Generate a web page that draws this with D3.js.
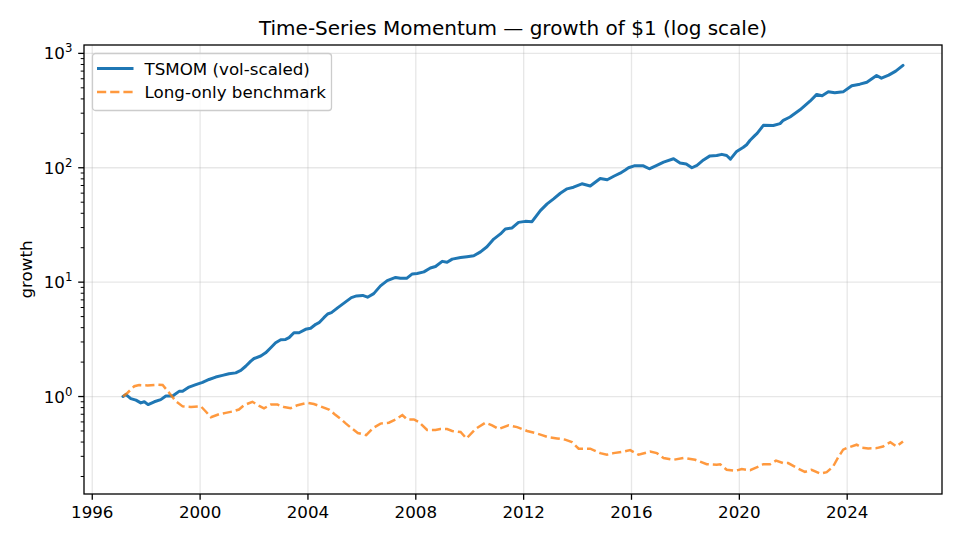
<!DOCTYPE html>
<html>
<head>
<meta charset="utf-8">
<script src="https://cdn.jsdelivr.net/npm/d3@7"></script>
<style>
  body { margin: 0; background: #fff; }
  svg { font-family: "DejaVu Sans", sans-serif; }
</style>
</head>
<body>
<svg width="960" height="540"></svg>
<script>
// values (decimal year, growth of $1)
const tsmomYears = [1997.14, 1997.25, 1997.43, 1997.62, 1997.80, 1997.93, 1998.07, 1998.30, 1998.54, 1998.73,
  1998.98, 1999.22, 1999.35, 1999.59, 1999.84, 2000.09, 2000.33, 2000.58, 2000.83, 2001.07,
  2001.32, 2001.51, 2001.69, 2001.88, 2002.00, 2002.25, 2002.43, 2002.62, 2002.80, 2002.99,
  2003.17, 2003.30, 2003.48, 2003.67, 2003.91, 2004.10, 2004.29, 2004.41, 2004.59, 2004.73,
  2004.87, 2005.11, 2005.36, 2005.61, 2005.80, 2006.03, 2006.21, 2006.44, 2006.69, 2006.94,
  2007.25, 2007.43, 2007.66, 2007.87, 2008.05, 2008.30, 2008.54, 2008.73, 2008.98, 2009.16,
  2009.35, 2009.66, 2009.90, 2010.15, 2010.40, 2010.64, 2010.89, 2011.14, 2011.32, 2011.57,
  2011.81, 2012.06, 2012.31, 2012.43, 2012.62, 2012.87, 2013.11, 2013.36, 2013.61, 2013.85,
  2014.16, 2014.47, 2014.84, 2015.10, 2015.36, 2015.58, 2015.77, 2015.89, 2016.10, 2016.44,
  2016.66, 2016.94, 2017.19, 2017.56, 2017.80, 2018.03, 2018.24, 2018.43, 2018.67, 2018.91,
  2019.16, 2019.35, 2019.53, 2019.67, 2019.90, 2020.15, 2020.27, 2020.40, 2020.58, 2020.66,
  2020.89, 2021.26, 2021.51, 2021.63, 2021.88, 2022.25, 2022.62, 2022.87, 2023.07, 2023.30,
  2023.54, 2023.85, 2024.17, 2024.47, 2024.73, 2025.09, 2025.27, 2025.54, 2025.80, 2026.07];
const tsmomGrowth = [1.00, 1.04, 0.96, 0.93, 0.88, 0.90, 0.85, 0.90, 0.94, 1.01,
  1.01, 1.11, 1.11, 1.21, 1.27, 1.33, 1.41, 1.48, 1.53, 1.58,
  1.61, 1.69, 1.84, 2.04, 2.15, 2.26, 2.41, 2.67, 2.95, 3.14,
  3.16, 3.27, 3.61, 3.61, 3.87, 3.95, 4.28, 4.42, 4.89, 5.27,
  5.41, 5.99, 6.62, 7.33, 7.58, 7.66, 7.39, 7.94, 9.28, 10.3,
  11.0, 10.8, 10.8, 11.8, 11.9, 12.3, 13.3, 13.7, 15.2, 14.9,
  15.9, 16.4, 16.7, 17.0, 18.4, 20.4, 23.8, 26.4, 29.2, 29.8,
  33.3, 34.0, 33.8, 36.9, 42.2, 48.3, 53.5, 59.9, 65.4, 67.6,
  72.4, 69.2, 80.6, 78.5, 84.7, 89.7, 95.7, 100, 104, 104,
  98.0, 105, 112, 120, 110, 108, 100, 105, 117, 127,
  128, 131, 128, 119, 139, 151, 159, 174, 192, 200,
  235, 234, 243, 260, 278, 321, 382, 438, 426, 461,
  453, 461, 522, 538, 560, 641, 607, 645, 699, 785];

const benchYears = [1997.14, 1997.31, 1997.56, 1997.74, 1998.05, 1998.42, 1998.61, 1998.85, 1999.10, 1999.35,
  1999.66, 2000.03, 2000.21, 2000.40, 2000.70, 2000.95, 2001.20, 2001.44, 2001.63, 2001.94,
  2002.19, 2002.37, 2002.62, 2002.87, 2003.11, 2003.36, 2003.61, 2003.98, 2004.22, 2004.47,
  2004.78, 2004.99, 2005.24, 2005.41, 2005.61, 2005.85, 2006.16, 2006.41, 2006.69, 2007.00,
  2007.25, 2007.50, 2007.68, 2007.93, 2008.11, 2008.42, 2008.73, 2008.91, 2009.16, 2009.35,
  2009.66, 2009.88, 2010.21, 2010.58, 2010.83, 2011.07, 2011.44, 2011.76, 2012.13, 2012.43,
  2012.68, 2012.93, 2013.24, 2013.54, 2013.79, 2014.04, 2014.47, 2014.84, 2015.09, 2015.33,
  2015.70, 2015.95, 2016.26, 2016.69, 2016.94, 2017.19, 2017.56, 2017.93, 2018.36, 2018.79,
  2019.16, 2019.29, 2019.53, 2019.84, 2020.09, 2020.40, 2020.64, 2020.89, 2021.14, 2021.36,
  2021.63, 2021.81, 2022.13, 2022.43, 2022.68, 2022.99, 2023.24, 2023.48, 2023.67, 2023.85,
  2023.98, 2024.35, 2024.55, 2024.78, 2025.09, 2025.33, 2025.60, 2025.83, 2026.07];
const benchGrowth = [1.00, 1.08, 1.23, 1.26, 1.25, 1.27, 1.26, 1.08, 0.91, 0.82,
  0.81, 0.82, 0.74, 0.66, 0.70, 0.72, 0.74, 0.77, 0.84, 0.90,
  0.83, 0.79, 0.85, 0.85, 0.81, 0.79, 0.84, 0.88, 0.86, 0.82,
  0.77, 0.70, 0.63, 0.58, 0.53, 0.48, 0.46, 0.53, 0.58, 0.59,
  0.63, 0.69, 0.63, 0.63, 0.60, 0.51, 0.51, 0.52, 0.52, 0.50,
  0.49, 0.43, 0.52, 0.59, 0.56, 0.52, 0.56, 0.54, 0.50, 0.48,
  0.46, 0.44, 0.43, 0.42, 0.40, 0.35, 0.35, 0.32, 0.31, 0.32,
  0.33, 0.34, 0.31, 0.33, 0.32, 0.29, 0.28, 0.29, 0.28, 0.256,
  0.253, 0.256, 0.229, 0.224, 0.232, 0.227, 0.240, 0.256, 0.256, 0.275,
  0.262, 0.262, 0.238, 0.219, 0.229, 0.212, 0.218, 0.245, 0.295, 0.343,
  0.354, 0.379, 0.357, 0.352, 0.354, 0.366, 0.399, 0.366, 0.405];

const xTickYears = [1996, 2000, 2004, 2008, 2012, 2016, 2020, 2024];
const yTickPowers = [0, 1, 2, 3];
const seriesNames = ["TSMOM (vol-scaled)", "Long-only benchmark"];

const width = 960;
const height = 540;
const margin = {top: 45, right: 18, bottom: 46, left: 84};
const plotW = width - margin.left - margin.right;
const plotH = height - margin.top - margin.bottom;
const fs = 16.7;   // 10pt at 120 dpi

const svg = d3.select("svg");

// matplotlib style 5% padding
const xExt = d3.extent(tsmomYears.concat(benchYears));
const xPad = (xExt[1] - xExt[0]) * 0.05;
const x = d3.scaleLinear()
    .domain([xExt[0] - xPad, xExt[1] + xPad])
    .range([margin.left, margin.left + plotW]);

const lExt = d3.extent(tsmomGrowth.concat(benchGrowth).map(Math.log10));
const lPad = (lExt[1] - lExt[0]) * 0.05;
const y = d3.scaleLog()
    .domain([Math.pow(10, lExt[0] - lPad), Math.pow(10, lExt[1] + lPad)])
    .range([margin.top + plotH, margin.top]);

// grid
const grid = svg.append("g").attr("stroke", "#b0b0b0").attr("stroke-opacity", 0.3).attr("stroke-width", 1.3);
grid.selectAll("line.gx").data(xTickYears).enter().append("line")
    .attr("x1", d => x(d)).attr("x2", d => x(d))
    .attr("y1", margin.top).attr("y2", margin.top + plotH);
grid.selectAll("line.gy").data(yTickPowers).enter().append("line")
    .attr("y1", d => y(Math.pow(10, d))).attr("y2", d => y(Math.pow(10, d)))
    .attr("x1", margin.left).attr("x2", margin.left + plotW);

// lines
const line = d3.line().x(d => x(d[0])).y(d => y(d[1]));

svg.append("path")
    .datum(tsmomYears.map((d, i) => [d, tsmomGrowth[i]]))
    .attr("fill", "none")
    .attr("stroke", "#1f77b4")
    .attr("stroke-width", 3)
    .attr("stroke-linejoin", "round")
    .attr("stroke-linecap", "round")
    .attr("d", line);

svg.append("path")
    .datum(benchYears.map((d, i) => [d, benchGrowth[i]]))
    .attr("fill", "none")
    .attr("stroke", "#ff7f0e")
    .attr("stroke-opacity", 0.8)
    .attr("stroke-width", 2.5)
    .attr("stroke-dasharray", "9.2,4")
    .attr("d", line);

// spines
svg.append("rect")
    .attr("x", margin.left).attr("y", margin.top)
    .attr("width", plotW).attr("height", plotH)
    .attr("fill", "none").attr("stroke", "#000").attr("stroke-width", 1.3);

// x axis
const xAxis = svg.append("g");
xAxis.selectAll("line").data(xTickYears).enter().append("line")
    .attr("x1", d => x(d)).attr("x2", d => x(d))
    .attr("y1", margin.top + plotH).attr("y2", margin.top + plotH + 5.8)
    .attr("stroke", "#000").attr("stroke-width", 1.3);
xAxis.selectAll("text").data(xTickYears).enter().append("text")
    .attr("x", d => x(d)).attr("y", margin.top + plotH + 11.6)
    .attr("dy", "0.76em")
    .attr("text-anchor", "middle")
    .attr("font-size", fs)
    .text(d => d);

// y axis: major + minor ticks
const yAxis = svg.append("g");
const minor = y.ticks().filter(v => Math.abs(Math.log10(v) - Math.round(Math.log10(v))) > 1e-6);
yAxis.selectAll("line.minor").data(minor).enter().append("line")
    .attr("x1", margin.left - 3.3).attr("x2", margin.left)
    .attr("y1", d => y(d)).attr("y2", d => y(d))
    .attr("stroke", "#000").attr("stroke-width", 1);
yAxis.selectAll("line.major").data(yTickPowers).enter().append("line")
    .attr("x1", margin.left - 5.8).attr("x2", margin.left)
    .attr("y1", d => y(Math.pow(10, d))).attr("y2", d => y(Math.pow(10, d)))
    .attr("stroke", "#000").attr("stroke-width", 1.3);
const yl = yAxis.selectAll("text").data(yTickPowers).enter().append("text")
    .attr("x", margin.left - 11.6)
    .attr("y", d => y(Math.pow(10, d)) + 6)
    .attr("text-anchor", "end")
    .attr("font-size", fs);
yl.append("tspan").text("10");
yl.append("tspan").attr("font-size", 11.7).attr("dy", -7).text(d => d);

// title and axis label
svg.append("text")
    .attr("x", margin.left + plotW / 2).attr("y", 35)
    .attr("text-anchor", "middle")
    .attr("font-size", 20)
    .text("Time-Series Momentum \u2014 growth of $1 (log scale)");

svg.append("text")
    .attr("transform", `translate(32,${margin.top + plotH / 2}) rotate(-90)`)
    .attr("text-anchor", "middle")
    .attr("font-size", fs)
    .text("growth");

// legend
const lg = svg.append("g").attr("transform", "translate(92.5,53.5)");
lg.append("rect")
    .attr("width", 239).attr("height", 57).attr("rx", 3)
    .attr("fill", "#fff").attr("fill-opacity", 0.8)
    .attr("stroke", "#cccccc").attr("stroke-width", 1.3);
const styles = [
  {color: "#1f77b4", w: 3, dash: null, op: 1},
  {color: "#ff7f0e", w: 2.5, dash: "9.2,4", op: 0.8}
];
seriesNames.forEach((name, i) => {
  const yy = 15 + i * 23.5;
  lg.append("line")
      .attr("x1", 4.5).attr("x2", 41).attr("y1", yy).attr("y2", yy)
      .attr("stroke", styles[i].color)
      .attr("stroke-opacity", styles[i].op)
      .attr("stroke-width", styles[i].w)
      .attr("stroke-dasharray", styles[i].dash);
  lg.append("text")
      .attr("x", 52).attr("y", yy + 6)
      .attr("font-size", fs)
      .text(name);
});
</script>
</body>
</html>
